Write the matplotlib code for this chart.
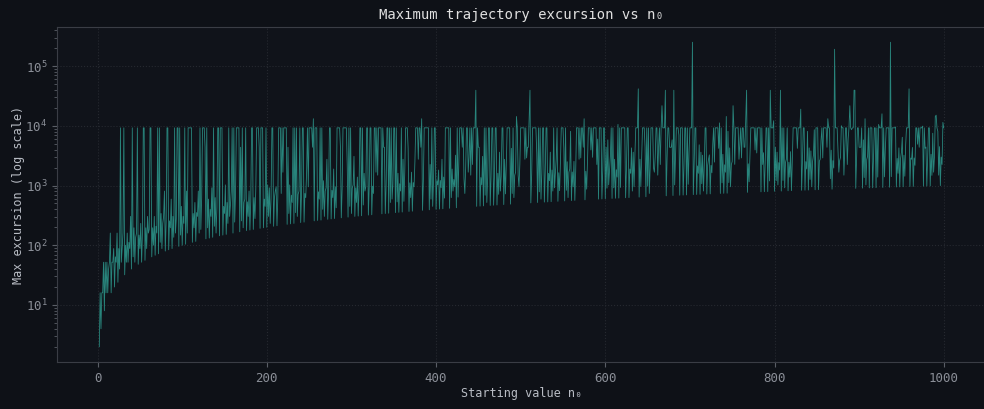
import matplotlib
matplotlib.use("Agg")
import matplotlib.pyplot as plt


def collatz_peak(n):
    # highest value reached before the trajectory hits 1
    peak = n
    while n != 1:
        n = n // 2 if n % 2 == 0 else 3 * n + 1
        peak = max(peak, n)
    return peak


start_values = list(range(2, 1001))
max_excursion = [collatz_peak(n) for n in start_values]

plt.rcParams["font.family"] = ["DejaVu Sans Mono"]

fig = plt.figure(figsize=(9.84, 4.09), dpi=100, facecolor="#0e1117")
ax = fig.add_axes([0.058, 0.115, 0.944, 0.819])
ax.set_facecolor("#10131a")

ax.plot(start_values, max_excursion, color="#2fa396", linewidth=0.6, alpha=0.8)
ax.set_yscale("log")

ax.grid(True, which="major", color="#262930", linestyle=":", linewidth=0.8)
for side in ["left", "bottom", "top", "right"]:
    ax.spines[side].set_color("#3a3d45")
ax.tick_params(which="both", colors="#5a5e66", labelcolor="#8b8f98", labelsize=9)

ax.set_title("Maximum trajectory excursion vs n₀", color="#e0e0e0", fontsize=10)
ax.set_xlabel("Starting value n₀", color="#b8bcc4", fontsize=8.5, labelpad=2)
ax.set_ylabel("Max excursion (log scale)", color="#b8bcc4", fontsize=8.5, labelpad=0)

fig.savefig("out.png", dpi=100, facecolor=fig.get_facecolor())
